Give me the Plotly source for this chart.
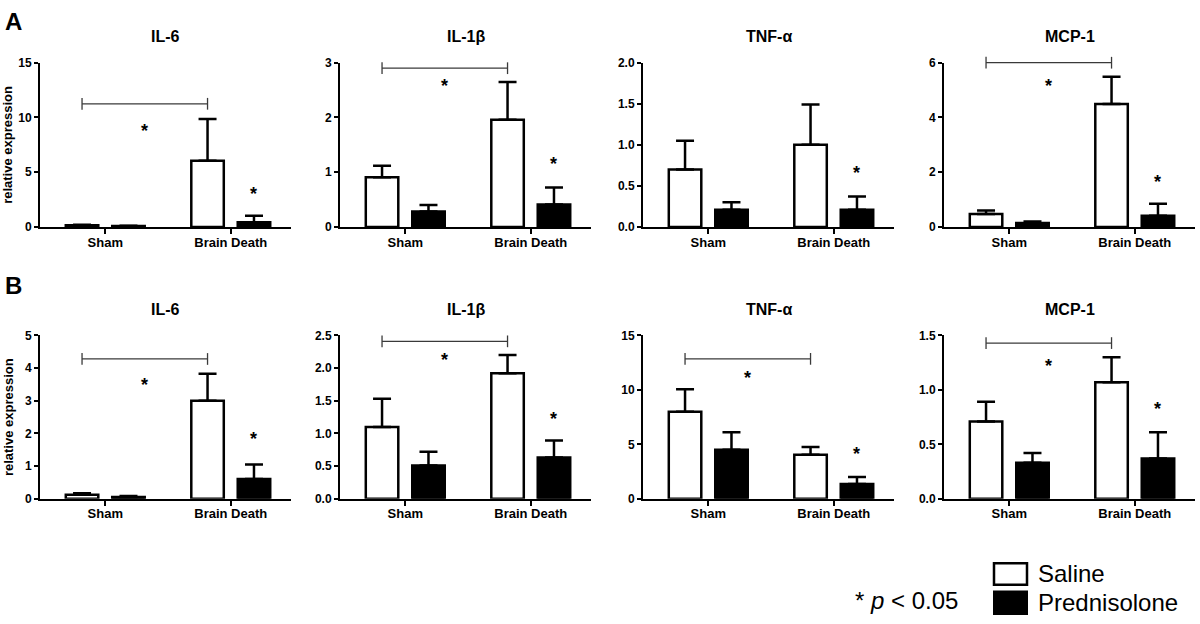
import plotly.graph_objects as go

# ---------------- data ----------------
groups = ["Sham", "Brain Death"]
series_names = ["Saline", "Prednisolone"]
row_labels = ["A", "B"]
panel_titles = ["IL-6", "IL-1β", "TNF-α", "MCP-1"]

# Row A  (values for [Sham, Brain Death])
a_il6_saline = [0.15, 6.05]
a_il6_saline_err = [0.05, 3.80]
a_il6_pred = [0.08, 0.42]
a_il6_pred_err = [0.03, 0.60]

a_il1b_saline = [0.91, 1.96]
a_il1b_saline_err = [0.21, 0.69]
a_il1b_pred = [0.28, 0.41]
a_il1b_pred_err = [0.12, 0.31]

a_tnf_saline = [0.70, 1.00]
a_tnf_saline_err = [0.35, 0.49]
a_tnf_pred = [0.21, 0.21]
a_tnf_pred_err = [0.09, 0.16]

a_mcp_saline = [0.47, 4.49]
a_mcp_saline_err = [0.13, 1.00]
a_mcp_pred = [0.14, 0.41]
a_mcp_pred_err = [0.06, 0.44]

# Row B
b_il6_saline = [0.12, 3.00]
b_il6_saline_err = [0.05, 0.83]
b_il6_pred = [0.05, 0.60]
b_il6_pred_err = [0.03, 0.45]

b_il1b_saline = [1.10, 1.92]
b_il1b_saline_err = [0.43, 0.28]
b_il1b_pred = [0.51, 0.63]
b_il1b_pred_err = [0.21, 0.26]

b_tnf_saline = [8.00, 4.05]
b_tnf_saline_err = [2.05, 0.70]
b_tnf_pred = [4.50, 1.35]
b_tnf_pred_err = [1.60, 0.65]

b_mcp_saline = [0.71, 1.07]
b_mcp_saline_err = [0.18, 0.23]
b_mcp_pred = [0.33, 0.37]
b_mcp_pred_err = [0.09, 0.24]

# y-axis scales
a_ymax = [15, 3, 2, 6]
a_dtick = [5, 1, 0.5, 2]
a_fmt = ["d", "d", ".1f", "d"]
b_ymax = [5, 2.5, 15, 1.5]
b_dtick = [1, 0.5, 5, 0.5]
b_fmt = ["d", ".1f", "d", ".1f"]

# significance annotations (heights in data units, None = absent)
a_bracket = [11.25, 2.9, None, 6.0]
a_bracket_star = [9.1, 2.65, None, 5.3]
a_pred_star = [3.4, 1.23, 0.70, 1.8]
b_bracket = [4.28, 2.41, 12.85, 1.43]
b_bracket_star = [3.6, 2.18, 11.5, 1.26]
b_pred_star = [1.95, 1.28, 4.5, 0.86]

rows = [
    dict(
        sal=[a_il6_saline, a_il1b_saline, a_tnf_saline, a_mcp_saline],
        sal_err=[a_il6_saline_err, a_il1b_saline_err, a_tnf_saline_err, a_mcp_saline_err],
        pred=[a_il6_pred, a_il1b_pred, a_tnf_pred, a_mcp_pred],
        pred_err=[a_il6_pred_err, a_il1b_pred_err, a_tnf_pred_err, a_mcp_pred_err],
        ymax=a_ymax, dtick=a_dtick, fmt=a_fmt,
        bracket=a_bracket, bstar=a_bracket_star, pstar=a_pred_star,
    ),
    dict(
        sal=[b_il6_saline, b_il1b_saline, b_tnf_saline, b_mcp_saline],
        sal_err=[b_il6_saline_err, b_il1b_saline_err, b_tnf_saline_err, b_mcp_saline_err],
        pred=[b_il6_pred, b_il1b_pred, b_tnf_pred, b_mcp_pred],
        pred_err=[b_il6_pred_err, b_il1b_pred_err, b_tnf_pred_err, b_mcp_pred_err],
        ymax=b_ymax, dtick=b_dtick, fmt=b_fmt,
        bracket=b_bracket, bstar=b_bracket_star, pstar=b_pred_star,
    ),
]

# ---------------- layout helpers ----------------
W, H = 1200, 624
FONT = "Liberation Sans, Arial, Helvetica, sans-serif"
BARGAP = 0.26
BARGROUPGAP = 0.30
OFF = (1 - BARGAP) / 4  # centre offset of each bar in a group

col_x0 = [40, 340, 643, 944]
col_w = 251
row_y = [(57, 225), (336, 503)]      # (top, bottom) px of plot area
title_y = [30, 309]
rowlabel_y = [15, 285]


def px_x(p):
    return p / W


def px_y(p):
    return 1 - p / H


fig = go.Figure()
annotations = []
shapes = []
xvals = list(range(len(groups)))

for r, row in enumerate(rows):
    top, bot = row_y[r]
    for c in range(4):
        n = r * 4 + c + 1
        sfx = "" if n == 1 else str(n)
        xa = "x" + sfx
        ya = "y" + sfx
        fig.add_trace(go.Bar(
            x=xvals, y=row["sal"][c], name=series_names[0], xaxis=xa, yaxis=ya,
            marker=dict(color="white", line=dict(color="black", width=2.5)),
            error_y=dict(type="data", symmetric=False, array=row["sal_err"][c],
                         arrayminus=[0] * len(groups), color="black",
                         thickness=2.5, width=9),
            showlegend=False, hoverinfo="skip",
        ))
        fig.add_trace(go.Bar(
            x=xvals, y=row["pred"][c], name=series_names[1], xaxis=xa, yaxis=ya,
            marker=dict(color="black", line=dict(color="black", width=2.5)),
            error_y=dict(type="data", symmetric=False, array=row["pred_err"][c],
                         arrayminus=[0] * len(groups), color="black",
                         thickness=2.5, width=9),
            showlegend=False, hoverinfo="skip",
        ))
        x0 = col_x0[c]
        fig.update_layout(**{
            "xaxis" + sfx: dict(
                domain=[px_x(x0), px_x(x0 + col_w)], anchor=ya,
                range=[-0.52, 1.48], tickvals=xvals, ticktext=groups,
                showline=True, linecolor="black", linewidth=2,
                ticks="outside", ticklen=5, tickwidth=2, tickcolor="black",
                ticklabelstandoff=-3,
                showgrid=False, zeroline=False, fixedrange=True,
                tickfont=dict(family=FONT, size=13, color="black", weight="bold"),
            ),
            "yaxis" + sfx: dict(
                domain=[px_y(bot), px_y(top)], anchor=xa,
                range=[0, row["ymax"][c]], dtick=row["dtick"][c], tick0=0,
                tickformat=row["fmt"][c],
                showline=True, linecolor="black", linewidth=2,
                ticks="outside", ticklen=4, tickwidth=2, tickcolor="black",
                showgrid=False, zeroline=False, fixedrange=True,
                tickfont=dict(family=FONT, size=12, color="black", weight="bold"),
            ),
        })
        # panel title
        annotations.append(dict(
            text=panel_titles[c], x=px_x(x0 + col_w / 2), y=px_y(title_y[r]),
            xref="paper", yref="paper", xanchor="center", yanchor="middle",
            showarrow=False,
            font=dict(family=FONT, size=16, color="black", weight="bold"),
        ))
        ymax = row["ymax"][c]
        tick_frac = 6 / (bot - top)
        # bracket Sham-saline vs BD-saline
        bh = row["bracket"][c]
        if bh is not None:
            xl, xr = xvals[0] - OFF, xvals[1] - OFF
            yf = bh / ymax
            shapes.append(dict(type="line", xref=xa, yref=ya + " domain",
                               x0=xl, x1=xr, y0=yf, y1=yf,
                               line=dict(color="#3a3a3a", width=1.3)))
            for xx in (xl, xr):
                shapes.append(dict(type="line", xref=xa, yref=ya + " domain",
                                   x0=xx, x1=xx, y0=yf - tick_frac, y1=yf + tick_frac,
                                   line=dict(color="#3a3a3a", width=1.3)))
            annotations.append(dict(
                text="*", x=(xl + xr) / 2, y=row["bstar"][c], xref=xa, yref=ya,
                xanchor="center", yanchor="middle", showarrow=False, yshift=-4,
                font=dict(family=FONT, size=18, color="black", weight="bold"),
            ))
        # star above BD prednisolone
        annotations.append(dict(
            text="*", x=xvals[1] + OFF, y=row["pstar"][c], xref=xa, yref=ya,
            xanchor="center", yanchor="middle", showarrow=False, yshift=-4,
            font=dict(family=FONT, size=18, color="black", weight="bold"),
        ))
    # row label
    annotations.append(dict(
        text=row_labels[r], x=px_x(3), y=px_y(rowlabel_y[r]),
        xref="paper", yref="paper", xanchor="left", yanchor="middle",
        showarrow=False,
        font=dict(family=FONT, size=24, color="black", weight="bold"),
    ))
    # y-axis title
    annotations.append(dict(
        text="relative expression", x=px_x(8), y=px_y((top + bot) / 2),
        xref="paper", yref="paper", xanchor="center", yanchor="middle",
        textangle=-90, showarrow=False,
        font=dict(family=FONT, size=13, color="black", weight="bold"),
    ))

# ---------------- custom legend ----------------
shapes.append(dict(type="rect", xref="paper", yref="paper",
                   x0=px_x(994), x1=px_x(1027), y0=px_y(591), y1=px_y(569),
                   fillcolor="white", line=dict(color="black", width=2.5)))
shapes.append(dict(type="rect", xref="paper", yref="paper",
                   x0=px_x(993), x1=px_x(1028), y0=px_y(622), y1=px_y(597),
                   fillcolor="black", line=dict(color="black", width=0)))
annotations.append(dict(
    text=series_names[0], x=px_x(1036), y=px_y(580), xref="paper", yref="paper",
    xanchor="left", yanchor="middle", showarrow=False,
    font=dict(family=FONT, size=24, color="black"),
))
annotations.append(dict(
    text=series_names[1], x=px_x(1036), y=px_y(609), xref="paper", yref="paper",
    xanchor="left", yanchor="middle", showarrow=False,
    font=dict(family=FONT, size=24, color="black"),
))
annotations.append(dict(
    text="* <i>p</i> &lt; 0.05", x=px_x(906), y=px_y(607), xref="paper", yref="paper",
    xanchor="center", yanchor="middle", showarrow=False,
    font=dict(family=FONT, size=24, color="black"),
))

fig.update_layout(
    width=W, height=H,
    margin=dict(l=0, r=0, t=0, b=0),
    paper_bgcolor="white", plot_bgcolor="white",
    barmode="group", bargap=BARGAP, bargroupgap=BARGROUPGAP,
    showlegend=False,
    annotations=annotations, shapes=shapes,
    font=dict(family=FONT, color="black"),
)

fig.write_html(
    "out.html",
    config={"displayModeBar": False, "staticPlot": True},
    post_script=(
        "document.body.style.margin='0px';"
        "document.body.style.overflow='hidden';"
        "document.documentElement.style.overflow='hidden';"
    ),
)
